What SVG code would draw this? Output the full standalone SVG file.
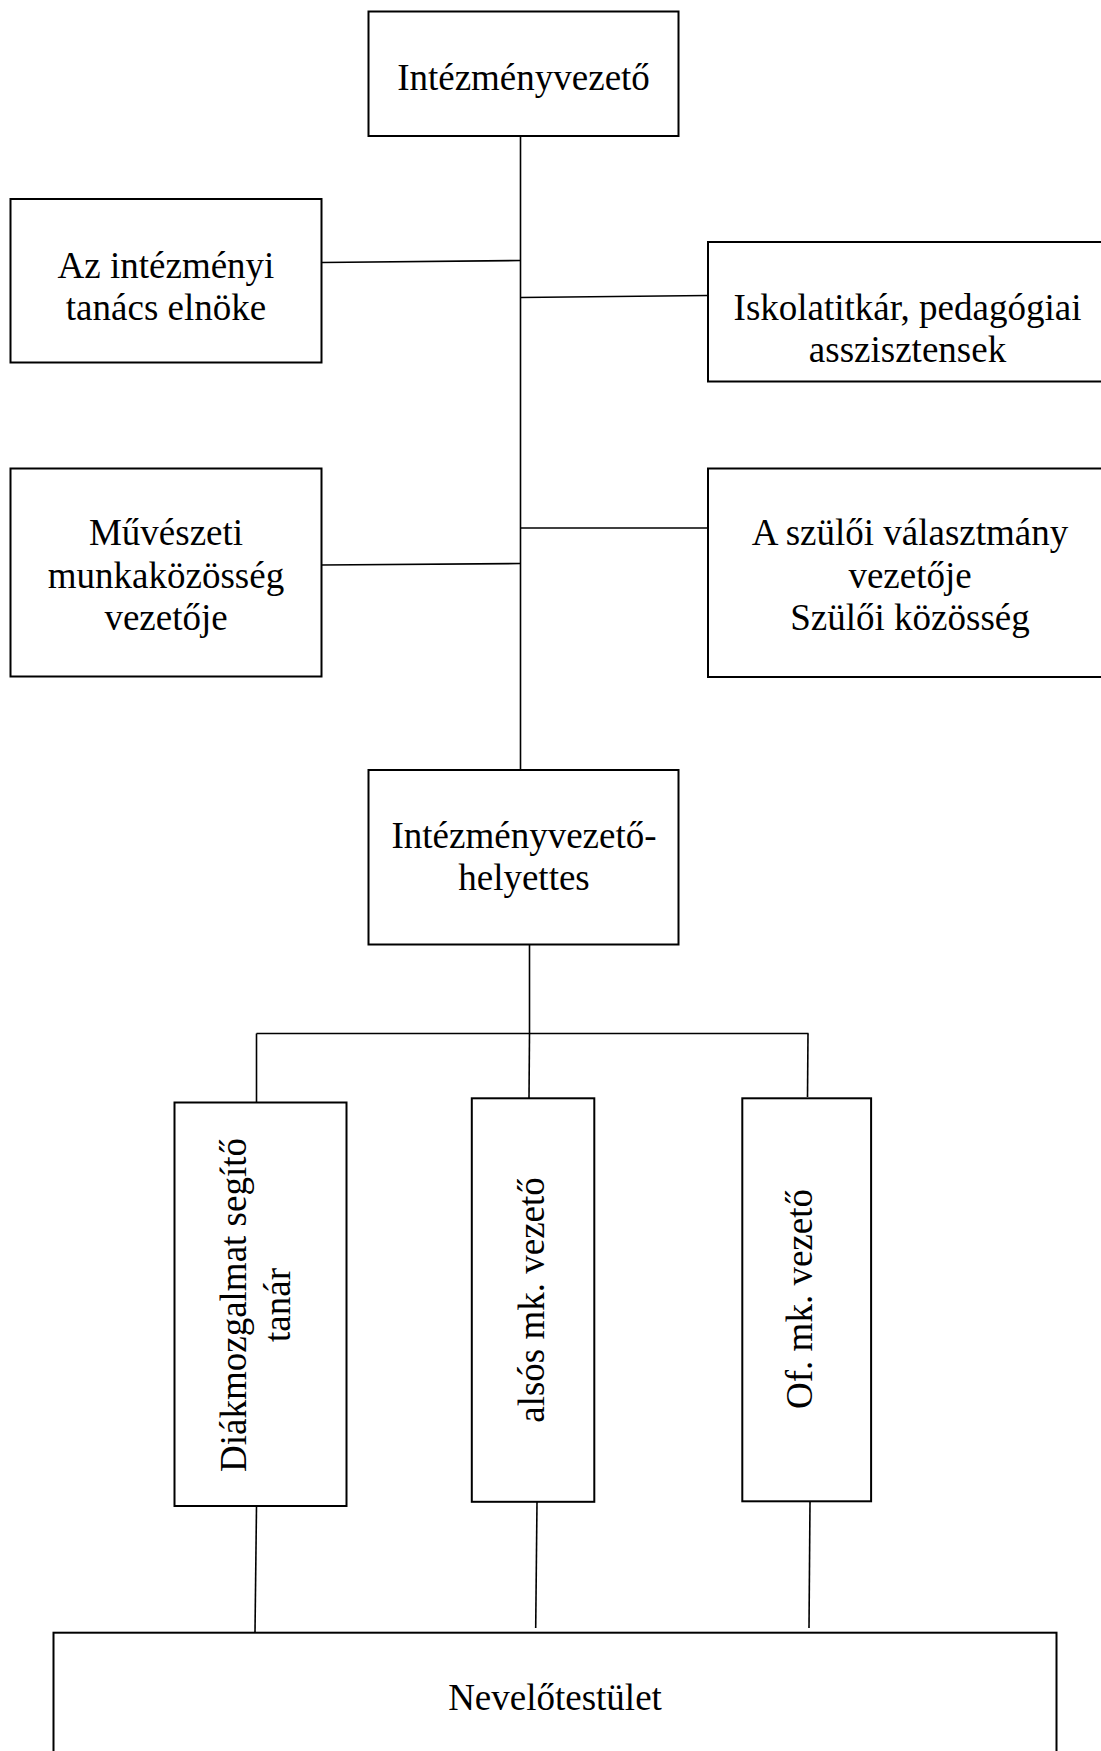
<svg xmlns="http://www.w3.org/2000/svg" width="1101" height="1751" viewBox="0 0 1101 1751">
<style>
.box{fill:#fff;stroke:#000;stroke-width:2}
.con{fill:none;stroke:#000;stroke-width:1.6}
.t{font-family:"Liberation Serif","Times New Roman",serif;font-size:37px;fill:#000;text-anchor:middle}
</style>
<rect width="1101" height="1751" fill="#fff"/>
<g id="connectors">
<line class="con" x1="520.5" y1="136" x2="520.5" y2="770"/>
<line class="con" x1="321.6" y1="262.5" x2="520.5" y2="260.5"/>
<line class="con" x1="520.5" y1="297.5" x2="708" y2="295.5"/>
<line class="con" x1="321.6" y1="565" x2="520.5" y2="563.5"/>
<line class="con" x1="520.5" y1="528" x2="708" y2="528"/>
<line class="con" x1="529.5" y1="945" x2="529.5" y2="1033.5"/>
<line class="con" x1="256.5" y1="1033.5" x2="808.5" y2="1033.5"/>
<line class="con" x1="256.5" y1="1033.5" x2="256.5" y2="1102.5"/>
<line class="con" x1="529.5" y1="1033.5" x2="529" y2="1098.3"/>
<line class="con" x1="808" y1="1033.5" x2="807.5" y2="1097"/>
<line class="con" x1="256.5" y1="1506" x2="255" y2="1632.7"/>
<line class="con" x1="537" y1="1502" x2="535.7" y2="1628"/>
<line class="con" x1="810" y1="1502" x2="809" y2="1628"/>
</g>
<g id="n-top">
<rect class="box" x="368.5" y="11.5" width="310" height="124.5"/>
<text class="t" x="523.5" y="90">Intézményvezető</text>
</g>
<g id="n-tanacs">
<rect class="box" x="10.5" y="199" width="311" height="163.5"/>
<text class="t" x="166" y="278">Az intézményi</text>
<text class="t" x="166" y="320">tanács elnöke</text>
</g>
<g id="n-iskolatitkar">
<rect class="box" x="708" y="242" width="400" height="139.5"/>
<text class="t" x="907.5" y="320">Iskolatitkár, pedagógiai</text>
<text class="t" x="907.5" y="362">asszisztensek</text>
</g>
<g id="n-muveszeti">
<rect class="box" x="10.5" y="468.5" width="311" height="208"/>
<text class="t" x="166" y="545">Művészeti</text>
<text class="t" x="166" y="588">munkaközösség</text>
<text class="t" x="166" y="630">vezetője</text>
</g>
<g id="n-szuloi">
<rect class="box" x="708" y="468.5" width="400" height="208.5"/>
<text class="t" x="910" y="545">A szülői választmány</text>
<text class="t" x="910" y="588">vezetője</text>
<text class="t" x="910" y="630">Szülői közösség</text>
</g>
<g id="n-helyettes">
<rect class="box" x="368.5" y="770" width="310" height="174.5"/>
<text class="t" x="524" y="848">Intézményvezető-</text>
<text class="t" x="524" y="890">helyettes</text>
</g>
<g id="n-diak">
<rect class="box" x="174.5" y="1102.5" width="172" height="403.5"/>
<text class="t" transform="translate(246,1305) rotate(-90)"><tspan x="0" y="0">Diákmozgalmat segítő</tspan><tspan x="0" y="44">tanár</tspan></text>
</g>
<g id="n-also">
<rect class="box" x="471.8" y="1098.3" width="122.5" height="403.5"/>
<text class="t" transform="translate(543.5,1300) rotate(-90)">alsós mk. vezető</text>
</g>
<g id="n-of">
<rect class="box" x="742.3" y="1098.3" width="128.8" height="403"/>
<text class="t" transform="translate(811.5,1299) rotate(-90)">Of. mk. vezető</text>
</g>
<g id="n-nevelo">
<rect class="box" x="53.5" y="1632.7" width="1003" height="140"/>
<text class="t" x="555" y="1710">Nevelőtestület</text>
</g>
</svg>
